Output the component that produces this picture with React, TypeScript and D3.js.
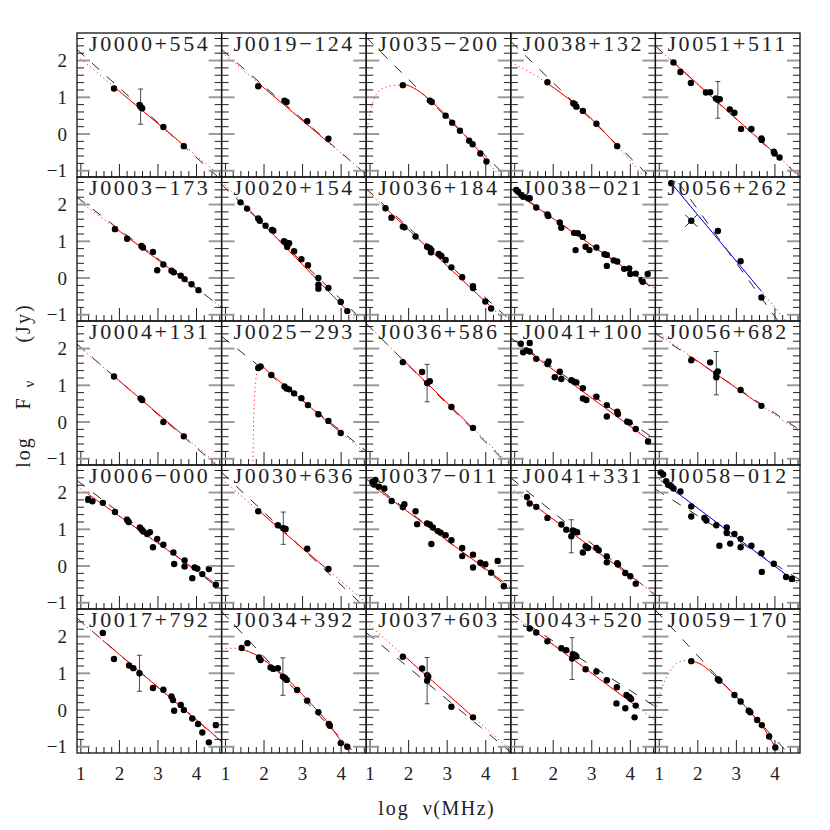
import React from 'react';
import * as d3 from 'd3';

// ---------- layout constants ----------
const LEFT = 77, TOP = 33, PW = 144.6, PH = 144;
const X_DOMAIN = [0.9, 4.65];
const Y_DOMAIN = [-1.17, 2.75];

// ---------- data ----------
const NAMES = [
  'J0000+554', 'J0003\u2212173', 'J0004+131', 'J0006\u2212000', 'J0017+792',
  'J0019\u2212124', 'J0020+154', 'J0025\u2212293', 'J0030+636', 'J0034+392',
  'J0035\u2212200', 'J0036+184', 'J0036+586', 'J0037\u2212011', 'J0037+603',
  'J0038+132', 'J0038\u2212021', 'J0041+100', 'J0041+331', 'J0043+520',
  'J0051+511', 'J0056+262', 'J0056+682', 'J0058\u2212012', 'J0059\u2212170',
];

const X_TICK_LABELS = [1, 2, 3, 4];
const Y_TICK_LABELS = [2, 1, 0, -1];

// points: [log nu, log F, yErr?, crossMarker?]
const J0000p554 = [[1.86,1.24],[2.525,0.79],[2.55,0.745,0.48],[2.59,0.70],[3.14,0.19],[3.67,-0.33]];
const J0003m173 = [[1.885,1.33,0.06],[2.2,1.07],[2.57,0.87],[2.61,0.83],[2.87,0.71],[2.98,0.21],[3.14,0.37],[3.35,0.20],[3.41,0.155],[3.59,0.065],[3.69,-0.03],[3.87,-0.17],[4.05,-0.33]];
const J0004p131 = [[1.86,1.24],[2.55,0.645],[2.59,0.60],[3.14,0.0],[3.67,-0.39]];
const J0006m000 = [[1.19,1.81,0.08],[1.30,1.76],[1.57,1.72],[1.885,1.47],[2.2,1.26],[2.24,1.20],[2.53,1.05],[2.58,0.99],[2.62,0.94],[2.72,0.87],[2.79,0.92],[2.87,0.51],[2.98,0.74],[3.14,0.58],[3.40,0.37],[3.42,0.055],[3.69,0.155],[3.69,-0.01],[3.89,-0.33],[3.95,-0.04],[4.02,-0.07],[4.15,-0.22],[4.32,-0.08],[4.50,-0.51,0.05]];
const J0017p792 = [[1.57,2.10],[1.86,1.39],[2.25,1.21],[2.36,1.14],[2.52,1.0,0.49],[2.87,0.60],[3.14,0.55],[3.35,0.37],[3.39,0.27],[3.42,-0.02],[3.59,0.14],[3.67,0.0],[3.89,-0.23],[4.04,-0.38],[4.15,-0.61],[4.32,-0.88],[4.50,-0.41,0.07]];
const J0019m124 = [[1.85,1.30],[2.53,0.91],[2.585,0.87],[3.12,0.35],[3.67,-0.13]];
const J0020p154 = [[1.39,2.06],[1.56,1.89],[1.85,1.62],[1.89,1.56],[2.04,1.425],[2.21,1.31],[2.24,1.29],[2.52,1.0],[2.59,0.96],[2.65,0.945],[2.6,0.85,0.06],[2.78,0.73],[2.97,0.51],[3.14,0.35],[3.41,0.0],[3.41,-0.18],[3.41,-0.29],[3.67,-0.27],[3.99,-0.65],[4.16,-0.90]];
const J0025m293 = [[1.85,1.47],[1.91,1.51],[2.19,1.28],[2.53,0.97],[2.585,0.91],[2.65,0.89],[2.78,0.78],[2.97,0.65],[3.14,0.46],[3.41,0.21],[3.67,0.03],[3.99,-0.30]];
const J0030p636 = [[1.85,1.49],[2.36,1.11],[2.50,1.03,0.44],[2.56,1.01],[3.12,0.47],[3.67,-0.08]];
const J0034p392 = [[1.42,1.69],[1.57,1.82],[1.87,1.43],[1.91,1.36],[2.17,1.16],[2.24,1.12],[2.36,1.14],[2.49,0.91,0.51],[2.54,0.87],[2.59,0.82],[2.86,0.545],[3.12,0.255],[3.41,-0.06],[3.68,-0.38],[3.71,-0.43],[3.99,-0.90],[4.16,-1.0]];
const J0035m200 = [[1.85,1.33],[2.55,0.91],[2.60,0.87],[2.96,0.50],[3.13,0.31],[3.33,0.09],[3.57,-0.18],[3.66,-0.28],[3.86,-0.53],[4.02,-0.75]];
const J0036p184 = [[1.40,1.90],[1.555,1.64,0.05],[1.85,1.40],[1.89,1.38],[2.18,1.13],[2.48,0.85],[2.55,0.81],[2.59,0.76],[2.58,0.70],[2.78,0.655],[2.85,0.60],[2.96,0.49],[3.11,0.29],[3.39,0.02],[3.67,-0.22],[3.67,-0.27],[3.99,-0.64],[4.14,-0.83]];
const J0036p586 = [[1.85,1.63],[2.35,1.36],[2.48,1.06,0.51],[2.55,1.11],[3.11,0.41],[3.67,-0.16]];
const J0037m011 = [[1.06,2.29],[1.10,2.22],[1.14,2.34],[1.23,2.16],[1.37,2.11,0.06],[1.56,1.77],[1.85,1.60],[1.89,1.68],[2.18,1.49],[2.22,1.14],[2.48,1.16],[2.55,1.13],[2.59,0.60],[2.63,1.05],[2.76,0.95],[2.83,0.91],[2.96,0.84],[3.11,0.70],[3.39,0.49],[3.39,0.27],[3.67,0.31],[3.67,-0.04],[3.86,0.09],[3.99,0.05],[4.14,-0.18],[4.31,0.14,0.06],[4.47,-0.55,0.06]];
const J0037p603 = [[1.85,1.45],[2.35,1.13],[2.48,0.95],[2.51,0.91],[2.48,0.80,0.63],[3.11,0.09],[3.67,-0.20]];
const J0038p132 = [[1.85,1.41],[2.52,0.84],[2.56,0.81],[2.60,0.745],[2.77,0.63],[3.12,0.28],[3.66,-0.33]];
const J0038m021 = [[1.04,2.40],[1.09,2.35],[1.17,2.26],[1.22,2.21],[1.35,2.17],[1.39,2.17],[1.56,1.92],[1.85,1.73],[1.87,1.69],[2.17,1.51],[2.21,1.37],[2.54,1.23],[2.64,1.22],[2.58,0.76],[2.77,1.12],[2.84,0.85],[2.94,0.76],[3.12,0.83],[3.33,0.65],[3.39,0.63],[3.39,0.33],[3.57,0.48],[3.66,0.45],[3.84,0.25],[3.97,0.26],[4.0,0.11],[4.14,0.12],[4.29,-0.05],[4.32,-0.10,0.05],[4.45,0.11]];
const J0041p100 = [[1.16,2.13],[1.22,1.90],[1.30,1.95],[1.39,2.15,0.05],[1.39,1.92],[1.56,1.72],[1.85,1.58],[1.88,1.65],[2.04,1.22,0.05],[2.17,1.37],[2.21,1.17],[2.47,1.14],[2.54,1.10],[2.60,1.08],[2.77,0.92],[2.77,0.64],[2.86,0.60],[3.12,0.69],[3.39,0.46],[3.39,0.15],[3.66,0.28],[3.68,0.22],[3.92,0.01],[3.98,-0.01],[4.14,-0.19],[4.46,-0.53,0.06]];
const J0041p331 = [[1.32,1.88],[1.39,1.70],[1.56,1.61,0.05],[1.85,1.31],[2.21,1.13],[2.34,0.99],[2.47,0.81,0.45],[2.51,0.97],[2.56,0.94],[2.62,0.92],[2.77,0.37],[2.84,0.54],[2.90,0.49],[3.12,0.49],[3.18,0.43],[3.39,0.26],[3.39,0.10],[3.66,0.08],[3.68,0.04],[3.87,-0.19],[4.0,-0.28],[4.14,-0.48]];
const J0043p520 = [[1.39,2.22],[1.56,2.11,0.05],[1.85,1.87],[2.21,1.68],[2.34,1.63],[2.49,1.40,0.57],[2.51,1.52],[2.56,1.50],[2.60,1.46],[2.84,1.11],[3.12,1.05],[3.39,0.81],[3.65,0.62],[3.64,0.18],[3.87,0.05],[3.90,0.41],[3.98,0.35],[4.02,0.30],[4.14,0.12],[4.11,-0.20]];
const J0051p511 = [[1.37,1.95],[1.55,1.69,0.07],[1.82,1.39],[2.21,1.13],[2.32,1.14],[2.47,0.97],[2.52,0.93,0.5],[2.57,0.95],[2.83,0.67],[2.95,0.58],[3.12,0.14],[3.39,0.14],[3.65,-0.12],[3.66,-0.16],[3.97,-0.48],[3.99,-0.53],[4.12,-0.64]];
const J0056p262 = [[1.31,2.58],[1.83,1.56,0,1],[2.52,1.28],[3.11,0.455],[3.65,-0.53]];
const J0056p682 = [[1.83,1.68],[2.32,1.625],[2.48,1.33,0.59],[2.52,1.38],[2.48,1.22],[3.11,0.87],[3.65,0.44]];
const J0058m012 = [[1.04,2.55],[1.10,2.49],[1.18,2.31],[1.23,2.21],[1.31,2.17],[1.37,2.11],[1.55,2.03],[1.83,1.62],[1.83,1.35],[2.17,1.31],[2.22,1.24],[2.48,1.11],[2.56,0.55],[2.75,1.05],[2.75,0.90],[2.84,0.61],[2.95,0.87],[3.11,0.74],[3.11,0.51],[3.39,0.55],[3.65,0.35],[3.66,-0.16],[3.97,0.06],[4.29,-0.30],[4.44,-0.35,0.07]];
const J0059m170 = [[1.83,1.33],[2.52,0.84],[2.56,0.80],[2.95,0.41],[3.11,0.23],[3.32,-0.02],[3.36,-0.06],[3.54,-0.27],[3.66,-0.41],[3.85,-0.72],[4.01,-1.02]];

// fitted spectra (red / blue curves)
const FIT_J0000p554 = [[0.9,2.13],[4.65,-1.17]];
const FIT_J0003m173 = [[0.9,2.14],[4.65,-0.80]];
const FIT_J0004p131 = [[0.9,2.10],[4.65,-1.25]];
const FIT_J0006m000 = [[0.9,2.17],[4.65,-0.60]];
const FIT_J0017p792 = [[0.9,2.49],[4.65,-0.85]];
const FIT_J0019m124 = [[0.9,2.23],[4.65,-1.10]];
const FIT_J0020p154 = [[0.9,2.63],[4.65,-1.42]];
const FIT_J0025m293 = [[1.70,-1.3],[1.71,-1.17],[1.73,0.0],[1.76,0.8],[1.80,1.25],[1.86,1.47],[1.92,1.51],[2.19,1.29],[2.6,0.93],[3.0,0.58],[3.5,0.14],[3.99,-0.29],[4.65,-0.85]];
const FIT_J0030p636 = [[0.9,2.37],[4.65,-1.0]];
const FIT_J0034p392 = [[0.9,1.68],[1.22,1.68],[1.44,1.64],[1.74,1.53],[2.08,1.30],[2.60,0.85],[3.12,0.28],[3.63,-0.31],[3.99,-0.83],[4.20,-1.11],[4.3,-1.25]];
const FIT_J0035m200 = [[0.88,-0.2],[0.91,0.02],[1.0,0.56],[1.13,1.02],[1.39,1.27],[1.69,1.33],[1.88,1.34],[2.22,1.20],[2.55,0.92],[2.97,0.51],[3.34,0.10],[3.85,-0.50],[4.04,-0.76],[4.3,-1.06],[4.45,-1.22]];
const FIT_J0036p184 = [[0.9,2.39],[4.65,-1.29]];
const FIT_J0036p586 = [[0.9,2.68],[4.65,-1.18]];
const FIT_J0037m011 = [[0.9,2.31],[4.65,-0.58]];
const FIT_J0037p603 = [[0.9,2.39],[4.65,-1.10]];
const FIT_J0038p132 = [[0.9,1.95],[1.4,1.68],[1.85,1.38],[2.56,0.82],[3.12,0.28],[3.66,-0.33],[4.33,-1.13],[4.4,-1.22]];
const FIT_J0038m021 = [[0.9,2.41],[4.65,-0.30]];
const FIT_J0041p100 = [[0.9,2.27],[4.65,-0.62]];
const FIT_J0041p331 = [[0.9,2.12],[4.65,-0.77]];
const FIT_J0043p520 = [[0.9,2.63],[4.65,-0.28]];
const FIT_J0051p511 = [[0.9,2.39],[4.65,-1.14]];
const FIT_J0056p262 = [[0.9,3.10],[4.65,-1.62]];
const FIT_J0056p682 = [[0.9,2.46],[4.65,-0.28]];
const FIT_J0058m012 = [[0.9,2.44],[4.65,-0.52]];
const FIT_J0059m170 = [[0.89,-0.14],[1.02,0.45],[1.28,1.04],[1.45,1.27],[1.67,1.34],[1.84,1.33],[2.09,1.24],[2.53,0.84],[2.96,0.41],[3.35,-0.04],[3.66,-0.41],[4.0,-0.98],[4.25,-1.25]];

// straight dashed reference lines (two end points each)
const DASHED = [
  [[0.9,2.30],[4.65,-1.26]], [[0.9,2.20],[4.65,-0.80]], [[0.9,2.12],[4.65,-1.30]], [[0.9,2.33],[4.65,-0.66]], [[0.9,2.50],[4.65,-0.86]],
  [[0.9,2.30],[4.65,-1.10]], [[0.9,2.55],[4.65,-1.25]], [[0.9,2.33],[4.65,-0.79]], [[0.9,2.55],[4.65,-1.16]], [[0.9,2.68],[4.65,-1.51]],
  [[0.9,2.63],[4.65,-1.28]], [[0.9,2.43],[4.65,-1.17]], [[0.9,2.68],[4.65,-1.23]], [[0.9,2.37],[4.65,-0.63]], [[0.9,2.11],[4.65,-1.15]],
  [[0.9,2.52],[4.65,-1.31]], [[0.9,2.44],[4.65,-0.33]], [[0.9,2.29],[4.65,-0.48]], [[0.9,2.40],[4.65,-0.80]], [[0.9,2.62],[4.65,0.09]],
  [[0.9,2.40],[4.65,-1.17]], [[0.9,3.47],[4.65,-2.0]], [[0.9,2.41],[4.65,-0.22]], [[0.9,2.09],[4.65,-0.38]], [[0.9,2.72],[4.65,-1.52]],
];

const FIT_COLORS = [
  'red','red','red','red','red',
  'red','red','red','red','red',
  'red','red','red','red','red',
  'red','red','red','red','red',
  'red','blue','red','blue','red',
];

const POINTS = [
  J0000p554, J0003m173, J0004p131, J0006m000, J0017p792,
  J0019m124, J0020p154, J0025m293, J0030p636, J0034p392,
  J0035m200, J0036p184, J0036p586, J0037m011, J0037p603,
  J0038p132, J0038m021, J0041p100, J0041p331, J0043p520,
  J0051p511, J0056p262, J0056p682, J0058m012, J0059m170,
];
const FITS = [
  FIT_J0000p554, FIT_J0003m173, FIT_J0004p131, FIT_J0006m000, FIT_J0017p792,
  FIT_J0019m124, FIT_J0020p154, FIT_J0025m293, FIT_J0030p636, FIT_J0034p392,
  FIT_J0035m200, FIT_J0036p184, FIT_J0036p586, FIT_J0037m011, FIT_J0037p603,
  FIT_J0038p132, FIT_J0038m021, FIT_J0041p100, FIT_J0041p331, FIT_J0043p520,
  FIT_J0051p511, FIT_J0056p262, FIT_J0056p682, FIT_J0058m012, FIT_J0059m170,
];

// ---------- scales ----------
const xs = d3.scaleLinear().domain(X_DOMAIN).range([0, PW]);
const ys = d3.scaleLinear().domain(Y_DOMAIN).range([PH, 0]);
const curve = d3.line<number[]>().x(d => xs(d[0])).y(d => ys(d[1])).curve(d3.curveMonotoneX);
const straight = d3.line<number[]>().x(d => xs(d[0])).y(d => ys(d[1]));

const X_TICKS = d3.range(5, 24).map(i => i / 5);
const Y_TICKS = d3.range(-5, 14).map(i => i / 5);
const isMajor = (v: number) => Math.abs(v - Math.round(v)) < 1e-6;

const SERIF = "'Liberation Serif', 'DejaVu Serif', serif";

function Panel({ idx }: { idx: number }) {
  const col = Math.floor(idx / 5), row = idx % 5;
  const px = LEFT + col * PW, py = TOP + row * PH;
  const pts = POINTS[idx];
  const fit = FITS[idx];
  const color = FIT_COLORS[idx] === 'blue' ? '#0000ff' : '#ff0000';
  const dotColor = FIT_COLORS[idx] === 'blue' ? '#4a4aff' : '#ff3030';
  const nuMin = d3.min(pts, d => d[0]) as number;
  const nuMax = d3.max(pts, d => d[0]) as number;
  const clipId = `clip${idx}`, solidId = `solid${idx}`;
  return (
    <g transform={`translate(${px},${py})`}>
      <defs>
        <clipPath id={clipId}><rect x={0} y={0} width={PW} height={PH} /></clipPath>
        <clipPath id={solidId}><rect x={xs(nuMin)} y={0} width={xs(nuMax) - xs(nuMin)} height={PH} /></clipPath>
      </defs>
      <g clipPath={`url(#${clipId})`}>
        <path d={straight(DASHED[idx]) || ''} fill="none" stroke="#111" strokeWidth={0.9} strokeDasharray="10 10" />
        <path d={curve(fit) || ''} fill="none" stroke={dotColor} strokeWidth={1} strokeDasharray="1.3 3" />
        <g clipPath={`url(#${solidId})`}>
          <path d={curve(fit) || ''} fill="none" stroke={color} strokeWidth={1} />
        </g>
        {pts.map((p, i) => {
          const cx = xs(p[0]), cy = ys(p[1]);
          const err = p[2] || 0;
          return (
            <g key={i}>
              {err > 0 && (
                <g stroke="#333" strokeWidth={0.9}>
                  <line x1={cx} x2={cx} y1={ys(p[1] + err)} y2={ys(p[1] - err)} />
                  <line x1={cx - 2.5} x2={cx + 2.5} y1={ys(p[1] + err)} y2={ys(p[1] + err)} />
                  <line x1={cx - 2.5} x2={cx + 2.5} y1={ys(p[1] - err)} y2={ys(p[1] - err)} />
                </g>
              )}
              {p[3] === 1 && (
                <g stroke="#222" strokeWidth={1}>
                  <line x1={cx - 6} x2={cx + 6} y1={cy - 6} y2={cy + 6} />
                  <line x1={cx - 6} x2={cx + 6} y1={cy + 6} y2={cy - 6} />
                </g>
              )}
              <circle cx={cx} cy={cy} r={3.2} fill="#000" />
            </g>
          );
        })}
      </g>
      {/* bottom ticks */}
      {X_TICKS.map((v, i) => (
        <line key={`bx${i}`} x1={xs(v)} x2={xs(v)} y1={PH} y2={PH - (isMajor(v) ? 13 : 6)} stroke="#222" strokeWidth={1} />
      ))}
      {/* left & right ticks */}
      {Y_TICKS.map((v, i) => {
        const maj = isMajor(v);
        const len = maj ? 13 : 7;
        const st = maj ? '#9a9a9a' : '#222';
        const sw = maj ? 2 : 1;
        return (
          <g key={`yt${i}`} stroke={st} strokeWidth={sw}>
            <line x1={0} x2={len} y1={ys(v)} y2={ys(v)} />
            <line x1={PW} x2={PW - len} y1={ys(v)} y2={ys(v)} />
          </g>
        );
      })}
      <rect x={0} y={0} width={PW} height={PH} fill="none" stroke="#111" strokeWidth={1.3} />
      <text x={12} y={17.7} fontFamily={SERIF} fontSize={22} letterSpacing={2.6} fill="#222">{NAMES[idx]}</text>
      {col === 0 && Y_TICK_LABELS.map(v => (
        <text key={`yl${v}`} x={-10} y={ys(v) + 6.5} textAnchor="end" fontFamily={SERIF} fontSize={19} fill="#222">
          {v < 0 ? `\u2212${Math.abs(v)}` : `${v}`}
        </text>
      ))}
      {row === 4 && X_TICK_LABELS.map(v => (
        <text key={`xl${v}`} x={xs(v)} y={PH + 27} textAnchor="middle" fontFamily={SERIF} fontSize={19} fill="#222">{v}</text>
      ))}
    </g>
  );
}

export default function App() {
  const rot = (x: number, y: number) => `translate(${x},${y}) rotate(-90)`;
  return (
    <svg width={830} height={830} style={{ position: 'absolute', left: 0, top: 0, background: '#fff' }}>
      <rect x={0} y={0} width={830} height={830} fill="#fff" />
      {NAMES.map((_, i) => <Panel key={i} idx={i} />)}
      {/* x axis title */}
      <text x={394} y={815} textAnchor="middle" fontFamily={SERIF} fontSize={20} letterSpacing={2} fill="#222">log</text>
      <text x={459} y={815} textAnchor="middle" fontFamily={SERIF} fontSize={20} letterSpacing={1.5} fill="#222">{'\u03bd(MHz)'}</text>
      {/* y axis title */}
      <text transform={rot(30, 452)} textAnchor="middle" fontFamily={SERIF} fontSize={20} letterSpacing={2} fill="#222">log</text>
      <text transform={rot(30, 404)} textAnchor="middle" fontFamily={SERIF} fontSize={20} fill="#222">F</text>
      <text transform={rot(34, 384)} textAnchor="middle" fontFamily={SERIF} fontSize={15} fill="#222">{'\u03bd'}</text>
      <text transform={rot(30, 323)} textAnchor="middle" fontFamily={SERIF} fontSize={20} letterSpacing={2} fill="#222">(Jy)</text>
    </svg>
  );
}
